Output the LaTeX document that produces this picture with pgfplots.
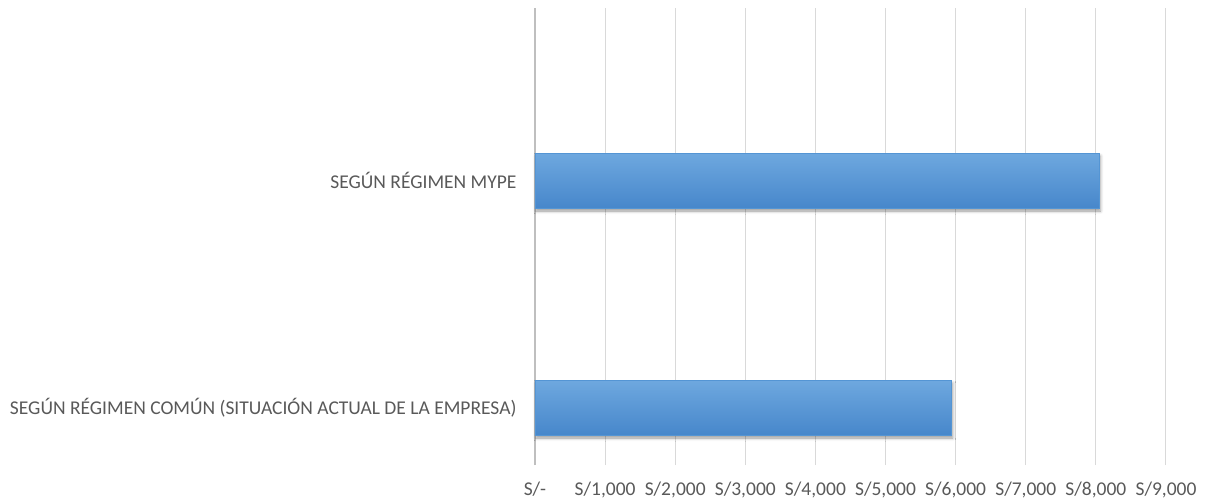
\documentclass[border=0pt]{standalone}
\usepackage{fontspec}
\setmainfont{Carlito}
\usepackage{pgfplots}
\pgfplotsset{compat=1.18}
\usetikzlibrary{shadows.blur}
\definecolor{txt}{HTML}{595959}
\definecolor{gridc}{HTML}{D9D9D9}
\definecolor{axc}{HTML}{BFBFBF}
\definecolor{bartop}{HTML}{6EA8DF}
\definecolor{barbot}{HTML}{4787CB}
\definecolor{barline}{HTML}{5495D4}
\begin{document}
\begin{tikzpicture}
\begin{axis}[
  scale only axis,
  width=631bp, height=457bp,
  xmin=0, xmax=9000,
  ymin=-0.253, ymax=1.76,
  xtick={0,1000,...,9000},
  xticklabels={S/-,{S/1,000},{S/2,000},{S/3,000},{S/4,000},{S/5,000},{S/6,000},{S/7,000},{S/8,000},{S/9,000}},
  ytick={0,1},
  yticklabels={SEGÚN RÉGIMEN COMÚN (SITUACIÓN ACTUAL DE LA EMPRESA),SEGÚN RÉGIMEN MYPE},
  xmajorgrids,
  major grid style={gridc, line width=1bp},
  axis x line*=bottom,
  x axis line style={draw=none},
  axis y line*=left,
  y axis line style={axc, line width=1.2bp, -},
  tick style={draw=none},
  tick label style={font=\fontsize{19.5bp}{23bp}\selectfont, text=txt},
  xticklabel style={yshift=-13bp},
  yticklabel style={xshift=-15bp},
  clip=false,
]
\addplot[xbar, bar shift=0pt, bar width=0.242, draw=barline, line width=0.8bp,
  top color=bartop, bottom color=barbot,
  blur shadow={shadow xshift=1bp, shadow yshift=-3bp, shadow blur radius=3bp, shadow opacity=40}]
  coordinates {(5945,0)};
\addplot[xbar, bar shift=0pt, bar width=0.242, draw=barline, line width=0.8bp,
  top color=bartop, bottom color=barbot,
  blur shadow={shadow xshift=1bp, shadow yshift=-3bp, shadow blur radius=3bp, shadow opacity=40}]
  coordinates {(8050,1)};
\end{axis}
\pgfresetboundingbox
\path (-535bp,-37bp) rectangle (678bp,465bp);
\end{tikzpicture}
\end{document}
